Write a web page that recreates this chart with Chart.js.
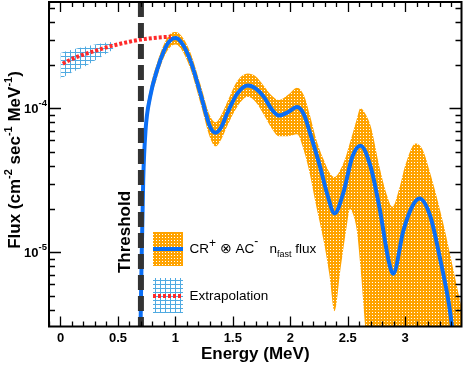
<!DOCTYPE html>
<html><head><meta charset="utf-8">
<script src="https://cdn.jsdelivr.net/npm/chart.js@4.4.1/dist/chart.umd.min.js"></script>
<style>html,body{margin:0;padding:0;background:#fff;}#wrap{width:463px;height:368px;}</style>
</head><body><div id="wrap"><canvas id="c" width="463" height="368"></canvas></div>
<script>
// ---------------- data ----------------
const fluxEnergy = [0.695,0.705,0.72,0.74,0.78,0.84,0.90,0.95,1.00,1.05,1.13,1.22,1.30,1.35,1.40,1.45,1.54,1.63,1.70,1.77,1.84,1.90,1.98,2.06,2.12,2.17,2.26,2.32,2.385,2.46,2.54,2.61,2.70,2.78,2.855,2.895,2.985,3.06,3.125,3.22,3.30,3.38,3.41,3.44];
const fluxValue  = [2.5e-6,8e-6,3.2e-5,7.0e-5,1.2e-4,1.84e-4,2.5e-4,2.93e-4,3.07e-4,2.88e-4,2.15e-4,1.25e-4,7.5e-5,6.75e-5,7.4e-5,9.2e-5,1.27e-4,1.44e-4,1.37e-4,1.2e-4,9.8e-5,8.9e-5,9.4e-5,1.02e-4,9.0e-5,6.8e-5,3.9e-5,2.56e-5,1.86e-5,2.56e-5,4.6e-5,5.5e-5,3.9e-5,1.96e-5,8.8e-6,7.1e-6,1.42e-5,2.07e-5,2.36e-5,1.76e-5,9.3e-6,4.4e-6,2.9e-6,1.5e-6];

const bandEnergy = [0.695,0.705,0.72,0.74,0.78,0.84,0.90,0.95,1.00,1.05,1.13,1.22,1.30,1.35,1.40,1.45,1.54,1.63,1.70,1.77,1.84,1.90,1.98,2.06,2.12,2.17,2.22,2.29,2.34,2.385,2.44,2.49,2.52,2.55,2.58,2.61,2.652,2.70,2.78,2.84,2.89,2.95,3.00,3.09,3.15,3.22,3.33,3.42,3.50];
const bandUpper  = [5e-6,1.3e-5,3.9e-5,8.2e-5,1.36e-4,2.06e-4,2.78e-4,3.25e-4,3.38e-4,3.2e-4,2.45e-4,1.45e-4,8.9e-5,8.0e-5,9.0e-5,1.1e-4,1.55e-4,1.74e-4,1.66e-4,1.43e-4,1.22e-4,1.14e-4,1.24e-4,1.39e-4,1.22e-4,9.0e-5,6.3e-5,4.4e-5,3.6e-5,3.33e-5,3.8e-5,4.8e-5,5.8e-5,7.0e-5,8.5e-5,1.0e-4,9.2e-5,7.5e-5,3.8e-5,2.5e-5,2.07e-5,2.8e-5,4.0e-5,5.7e-5,5.2e-5,3.5e-5,1.6e-5,7.5e-6,3.8e-6];
const bandLower  = [1.5e-6,5e-6,2.6e-5,5.9e-5,1.05e-4,1.63e-4,2.25e-4,2.63e-4,2.77e-4,2.58e-4,1.88e-4,1.07e-4,6.3e-5,5.45e-5,6.1e-5,7.5e-5,1.03e-4,1.2e-4,1.1e-4,9.0e-5,7.2e-5,6.4e-5,6.4e-5,6.6e-5,5.0e-5,3.5e-5,2.2e-5,1.2e-5,7e-6,3.9e-6,8e-6,1.5e-5,2.0e-5,1.8e-5,1.4e-5,8e-6,3e-6,1e-6,1e-6,1e-6,1e-6,1e-6,1e-6,1e-6,1e-6,1e-6,1e-6,1e-6,1e-6];

const extrapEnergy = [0.02,0.1,0.2,0.3,0.4,0.5,0.6,0.7,0.8,0.9,0.96];
const extrapValue  = [2.04e-4,2.2e-4,2.36e-4,2.5e-4,2.65e-4,2.78e-4,2.9e-4,3.0e-4,3.07e-4,3.12e-4,3.14e-4];

const extrapBandEnergy = [0.0,0.1,0.2,0.3,0.4,0.46];
const extrapBandUpper  = [2.42e-4,2.55e-4,2.66e-4,2.77e-4,2.86e-4,2.9e-4];
const extrapBandLower  = [1.6e-4,1.78e-4,1.93e-4,2.15e-4,2.4e-4,2.55e-4];

const thresholdEnergy = 0.7;

const xRange = [-0.1, 3.49];
const yRange = [3.05e-6, 5.47e-4];
const xTickValues = [0,0.5,1,1.5,2,2.5,3];
const xTickLabels = ['0','0.5','1','1.5','2','2.5','3'];
const yTickValues = [1e-5,1e-4];
const yTickExponents = ['-5','-4'];

// ---------------- styling ----------------
const FONT = '"Liberation Sans", Arial, Helvetica, sans-serif';
const BLUE = '#0a6ef5';
const RED = '#ff2a2a';
const ORANGE = 'rgb(255,163,0)';
const HATCH = 'rgb(80,170,225)';

function makePattern(w, h, bg, fg, pix) {
  const c = document.createElement('canvas'); c.width = w; c.height = h;
  const g = c.getContext('2d');
  if (bg) { g.fillStyle = bg; g.fillRect(0, 0, w, h); }
  g.fillStyle = fg; pix.forEach(p => g.fillRect(p[0], p[1], p[2] || 1, p[3] || 1));
  return g.createPattern(c, 'repeat');
}
const orangePat = makePattern(3, 3, ORANGE, '#ffffff', [[0,0]]);
const hatchPat = makePattern(5, 4, null, HATCH, [[0,0,1,4],[0,0,5,1]]);

const toXY = (xs, ys) => xs.map((x, i) => ({x: x, y: ys[i]}));
const hidden = {borderColor: 'rgba(0,0,0,0)', borderWidth: 0, pointRadius: 0};

function drawRich(ctx, segs, x, y, align) {
  let total = 0;
  const ws = segs.map(s => { ctx.font = s.f; const w = ctx.measureText(s.t).width; total += w; return w; });
  let cx = align === 'center' ? x - total / 2 : (align === 'right' ? x - total : x);
  ctx.textAlign = 'left'; ctx.textBaseline = 'alphabetic';
  segs.forEach((s, i) => { ctx.font = s.f; ctx.fillText(s.t, cx, y + (s.dy || 0)); cx += ws[i]; });
}

const decor = {
  id: 'decor',
  afterDatasetsDraw(chart) {
    const ctx = chart.ctx, a = chart.chartArea, xs = chart.scales.x, ys = chart.scales.y;
    ctx.save();
    ctx.strokeStyle = '#000';
    ctx.lineWidth = 1.3;
    ctx.beginPath();
    for (let k = -1; k <= 35; k++) {
      const v = k / 10;
      if (v < xRange[0] - 1e-9 || v > xRange[1] + 1e-9) continue;
      const px = Math.round(xs.getPixelForValue(v)) + 0.5;
      const len = (k % 5 === 0) ? 10 : 5;
      ctx.moveTo(px, a.bottom); ctx.lineTo(px, a.bottom - len);
      ctx.moveTo(px, a.top); ctx.lineTo(px, a.top + len);
    }
    for (let d = -6; d <= -3; d++) {
      for (let m = 1; m <= 9; m++) {
        const v = m * Math.pow(10, d);
        if (v < yRange[0] || v > yRange[1]) continue;
        const py = Math.round(ys.getPixelForValue(v)) + 0.5;
        const len = m === 1 ? 12 : 6;
        ctx.moveTo(a.left, py); ctx.lineTo(a.left + len, py);
        ctx.moveTo(a.right, py); ctx.lineTo(a.right - len, py);
      }
    }
    ctx.stroke();
    ctx.lineWidth = 2;
    ctx.strokeRect(a.left, a.top, a.right - a.left, a.bottom - a.top);
    ctx.restore();
  },
  afterDraw(chart) {
    const ctx = chart.ctx, a = chart.chartArea, xs = chart.scales.x, ys = chart.scales.y;
    ctx.save();
    ctx.fillStyle = '#000';
    ctx.font = 'bold 13px ' + FONT; ctx.textAlign = 'center'; ctx.textBaseline = 'alphabetic';
    xTickValues.forEach((v, i) => ctx.fillText(xTickLabels[i], xs.getPixelForValue(v), a.bottom + 15));
    yTickValues.forEach((v, i) => {
      const py = ys.getPixelForValue(v);
      drawRich(ctx, [{t: '10', f: 'bold 13px ' + FONT, dy: 5}, {t: yTickExponents[i], f: 'bold 9.5px ' + FONT, dy: -2}], a.left - 2, py, 'right');
    });
    ctx.font = 'bold 17px ' + FONT; ctx.textAlign = 'center';
    ctx.fillText('Energy (MeV)', (a.left + a.right) / 2, 359);
    const big = 'bold 17px ' + FONT, sup = 'bold 11px ' + FONT;
    ctx.save(); ctx.translate(20, 160); ctx.rotate(-Math.PI / 2);
    drawRich(ctx, [{t: 'Flux (cm', f: big}, {t: '-2', f: sup, dy: -8}, {t: ' sec', f: big}, {t: '-1', f: sup, dy: -8}, {t: ' MeV', f: big}, {t: '-1', f: sup, dy: -8}, {t: ')', f: big}], 0, 0, 'center');
    ctx.restore();
    ctx.save(); ctx.translate(130, 232); ctx.rotate(-Math.PI / 2);
    ctx.font = 'bold 17px ' + FONT; ctx.textAlign = 'center'; ctx.fillText('Threshold', 0, 0);
    ctx.restore();
    // legend
    ctx.fillStyle = orangePat; ctx.fillRect(153, 232, 30, 34);
    ctx.strokeStyle = BLUE; ctx.lineWidth = 4; ctx.beginPath(); ctx.moveTo(153, 249); ctx.lineTo(183, 249); ctx.stroke();
    ctx.fillStyle = hatchPat; ctx.fillRect(153, 278, 30, 35);
    ctx.strokeStyle = RED; ctx.setLineDash([3, 2]); ctx.beginPath(); ctx.moveTo(153, 296); ctx.lineTo(183, 296); ctx.stroke(); ctx.setLineDash([]);
    ctx.fillStyle = '#000';
    const lf = '13.5px ' + FONT, ls = '12px ' + FONT, lsub = '9px ' + FONT;
    drawRich(ctx, [{t: 'CR', f: lf}, {t: '+', f: ls, dy: -6}, {t: ' \u2297 ', f: lf}, {t: 'AC', f: lf}, {t: '-', f: ls, dy: -8}, {t: '   n', f: lf}, {t: 'fast', f: lsub, dy: 4}, {t: ' flux', f: lf}], 189.5, 253, 'left');
    drawRich(ctx, [{t: 'Extrapolation', f: lf}], 189.5, 300, 'left');
    ctx.restore();
  }
};

new Chart(document.getElementById('c'), {
  type: 'line',
  data: {
    datasets: [
      Object.assign({label: 'band upper', data: toXY(bandEnergy, bandUpper), fill: '+1', backgroundColor: orangePat, cubicInterpolationMode: 'monotone', order: 6}, hidden),
      Object.assign({label: 'band lower', data: toXY(bandEnergy, bandLower), fill: false, cubicInterpolationMode: 'monotone', order: 6}, hidden),
      Object.assign({label: 'extrap upper', data: toXY(extrapBandEnergy, extrapBandUpper), fill: '+1', backgroundColor: hatchPat, cubicInterpolationMode: 'monotone', order: 5}, hidden),
      Object.assign({label: 'extrap lower', data: toXY(extrapBandEnergy, extrapBandLower), fill: false, cubicInterpolationMode: 'monotone', order: 5}, hidden),
      {label: 'CR+ AC- n_fast flux', data: toXY(fluxEnergy, fluxValue), borderColor: BLUE, borderWidth: 4, pointRadius: 0, fill: false, cubicInterpolationMode: 'monotone', order: 3},
      {label: 'Extrapolation', data: toXY(extrapEnergy, extrapValue), borderColor: RED, borderWidth: 4, borderDash: [3, 2], pointRadius: 0, fill: false, cubicInterpolationMode: 'monotone', order: 2},
      {label: 'Threshold', data: [{x: thresholdEnergy, y: yRange[1]}, {x: thresholdEnergy, y: yRange[0]}], borderColor: '#333333', borderWidth: 6, borderDash: [15, 6], pointRadius: 0, fill: false, order: 1}
    ]
  },
  options: {
    responsive: false, animation: false, events: [],
    clip: 0,
    layout: {padding: {left: 49, top: 2, right: 1.5, bottom: 41.5}},
    plugins: {legend: {display: false}, tooltip: {enabled: false}},
    scales: {
      x: {type: 'linear', min: xRange[0], max: xRange[1], display: false},
      y: {type: 'logarithmic', min: yRange[0], max: yRange[1], display: false}
    }
  },
  plugins: [decor]
});
</script></body></html>
